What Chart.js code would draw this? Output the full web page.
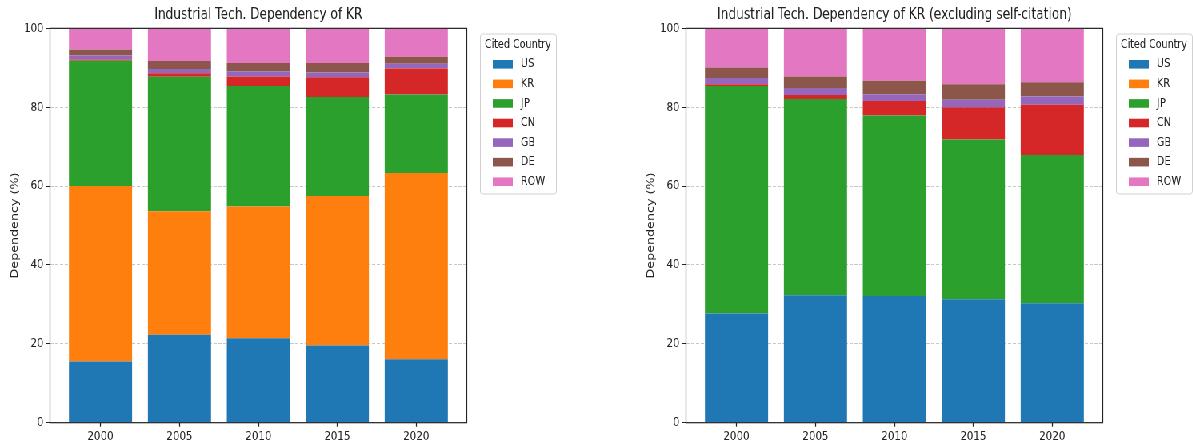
<!DOCTYPE html>
<html>
<head>
<meta charset="utf-8">
<script src="https://cdn.jsdelivr.net/npm/chart.js@4.4.1/dist/chart.umd.min.js"></script>
<style>
	html, body { margin: 0; padding: 0; overflow: hidden; background: #fff; }
	#wrap {
		position: absolute; left: 0; top: 0;
		width: 1491px; height: 446px;
		transform: scaleX(0.8); transform-origin: 0 0;
	}
	.panel { position: absolute; top: 0; width: 696px; height: 446px; }
</style>
</head>
<body>
<div id="wrap">
	<div class="panel" style="left:0"><canvas id="kr_all" width="696" height="446"></canvas></div>
	<div class="panel" style="left:795px"><canvas id="kr_excl" width="696" height="446"></canvas></div>
</div>
<script>
'use strict';

// citing years and cited countries
var years = [2000, 2005, 2010, 2015, 2020];
var countries = ['US', 'KR', 'JP', 'CN', 'GB', 'DE', 'ROW'];

// share of citations (%), all citations
var allUS = [15.5, 22.3, 21.4, 19.6, 16.1];
var allKR = [44.5, 31.3, 33.4, 37.9, 47.2];
var allJP = [31.8, 34.1, 30.6, 25.1, 19.9];
var allCN = [0.3, 0.9, 2.4, 5.0, 6.6];
var allGB = [1.0, 1.1, 1.3, 1.2, 1.2];
var allDE = [1.5, 2.0, 2.1, 2.4, 1.8];
var allROW = [5.4, 8.3, 8.8, 8.8, 7.2];

// share of citations (%), KR self-citation removed
var exUS = [27.7, 32.3, 32.1, 31.3, 30.3];
var exKR = [0, 0, 0, 0, 0];
var exJP = [57.7, 49.8, 45.8, 40.5, 37.6];
var exCN = [0.4, 1.0, 3.7, 8.2, 12.7];
var exGB = [1.6, 1.8, 1.7, 1.9, 2.1];
var exDE = [2.7, 2.9, 3.4, 3.9, 3.6];
var exROW = [9.9, 12.2, 13.3, 14.2, 13.7];

var yTicks = [0, 20, 40, 60, 80, 100];

var palette = ['#1f77b4', '#ff7f0e', '#2ca02c', '#d62728', '#9467bd', '#8c564b', '#e377c2'];
var ink = '#222';

Chart.defaults.font.family = "'DejaVu Sans', sans-serif";
Chart.defaults.color = ink;

// axes box: all four spines
var framePlugin = {
	id: 'frame',
	afterDraw: function (c) {
		var a = c.chartArea, ctx = c.ctx;
		ctx.save();
		ctx.strokeStyle = ink;
		ctx.lineWidth = 1.2;
		ctx.strokeRect(a.left, a.top, a.right - a.left, a.bottom - a.top);
		ctx.restore();
	}
};

// boxed legend to the right of the axes
var legendPlugin = {
	id: 'citedLegend',
	afterDraw: function (c, args, opts) {
		var ctx = c.ctx, a = c.chartArea;
		var x = a.right + 17, y = 34, w = 95, h = 160;
		ctx.save();
		ctx.fillStyle = '#fff';
		ctx.strokeStyle = 'rgba(204,204,204,0.9)';
		ctx.lineWidth = 1;
		ctx.beginPath();
		ctx.roundRect(x, y, w, h, 3);
		ctx.fill();
		ctx.stroke();
		ctx.textBaseline = 'middle';
		ctx.fillStyle = ink;
		ctx.font = "12px 'DejaVu Sans'";
		ctx.fillText(opts.title, x + 5.5, y + 11);
		ctx.font = "12.3px 'DejaVu Sans'";
		c.data.datasets.forEach(function (ds, i) {
			var cy = 64.3 + i * 19.57;
			ctx.fillStyle = ds.backgroundColor;
			ctx.fillRect(x + 15.5, cy - 4.3, 25, 8.6);
			ctx.fillStyle = ink;
			ctx.fillText(ds.label, x + 50.5, cy);
		});
		ctx.restore();
	}
};

function build(id, title, series) {
	var datasets = countries.map(function (name, i) {
		return {
			label: name,
			data: series[i],
			backgroundColor: palette[i],
			borderWidth: 0,
			categoryPercentage: 0.8,
			barPercentage: 1
		};
	});
	return new Chart(document.getElementById(id), {
		type: 'bar',
		data: { labels: years, datasets: datasets },
		plugins: [framePlugin, legendPlugin],
		options: {
			responsive: false,
			animation: false,
			layout: { padding: { left: 0, right: 112.5, top: 0, bottom: 0 } },
			plugins: {
				legend: { display: false },
				tooltip: { enabled: false },
				title: {
					display: true,
					text: title,
					fullSize: false,
					font: { size: 15.2, weight: 'normal' },
					color: ink,
					padding: { top: 5.8, bottom: 4.3 }
				},
				citedLegend: { title: 'Cited Country' }
			},
			scales: {
				x: {
					type: 'linear',
					stacked: true,
					offset: false,
					min: years[0] - 3.2,
					max: years[years.length - 1] + 3.2,
					afterFit: function (s) { s.height = 23.3; },
					afterBuildTicks: function (s) {
						s.ticks = years.map(function (v) { return { value: v }; });
					},
					border: { display: false },
					grid: {
						offset: false,
						drawOnChartArea: false,
						drawTicks: true,
						tickLength: 4,
						tickColor: ink,
						tickWidth: 1.25
					},
					ticks: {
						autoSkip: false,
						maxRotation: 0,
						padding: 2.3,
						font: { size: 12.8 },
						callback: function (v) { return String(v); }
					}
				},
				y: {
					stacked: true,
					min: 0,
					max: 100,
					z: 1,
					afterFit: function (s) { s.width = 62.5; },
					afterBuildTicks: function (s) {
						s.ticks = yTicks.map(function (v) { return { value: v }; });
					},
					border: { display: false, dash: [4, 2] },
					grid: {
						color: 'rgba(176,176,176,0.7)',
						lineWidth: 1,
						tickLength: 5,
						tickColor: ink,
						tickWidth: 1,
						tickBorderDash: []
					},
					ticks: { padding: 3, font: { size: 12.8 } },
					title: {
						display: true,
						text: 'Dependency (%)',
						font: { size: 12.7 },
						color: ink,
						padding: { top: 11, bottom: 0 }
					}
				}
			}
		}
	});
}

build('kr_all', 'Industrial Tech. Dependency of KR',
	[allUS, allKR, allJP, allCN, allGB, allDE, allROW]);
build('kr_excl', 'Industrial Tech. Dependency of KR (excluding self-citation)',
	[exUS, exKR, exJP, exCN, exGB, exDE, exROW]);
</script>
</body>
</html>
